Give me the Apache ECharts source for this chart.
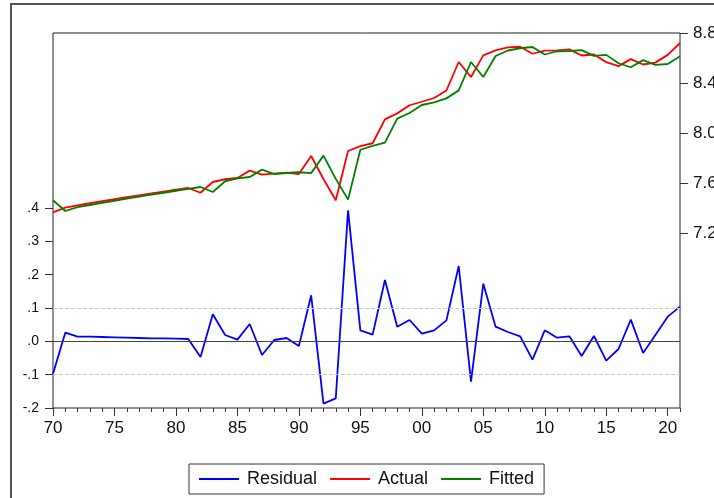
<!DOCTYPE html>
<html>
<head>
<meta charset="utf-8">
<script src="https://cdn.jsdelivr.net/npm/echarts@6/dist/echarts.min.js"></script>
<style>
html,body{margin:0;padding:0;background:#fff;}
#main{width:714px;height:498px;}
</style>
</head>
<body>
<div id="main"></div>
<script>
const years = [];
for (let y = 1970; y <= 2021; y++) years.push(y);

const residual = [-0.097,0.026,0.014,0.014,0.013,0.012,0.011,0.010,0.009,0.009,0.008,0.007,
  -0.047,0.081,0.019,0.005,0.052,-0.041,0.004,0.010,-0.014,0.138,-0.187,-0.171,0.393,
  0.033,0.020,0.184,0.044,0.064,0.023,0.033,0.063,0.226,-0.121,0.173,0.044,0.028,0.015,
  -0.055,0.033,0.011,0.015,-0.044,0.016,-0.058,-0.023,0.065,-0.035,0.019,0.074,0.104];

const actual = [7.365,7.403,7.421,7.438,7.454,7.470,7.486,7.501,7.516,7.531,7.546,7.560,
  7.522,7.608,7.630,7.640,7.699,7.667,7.675,7.683,7.672,7.816,7.632,7.462,7.856,
  7.895,7.918,8.109,8.157,8.222,8.250,8.280,8.340,8.568,8.448,8.621,8.661,8.685,8.690,
  8.634,8.659,8.661,8.669,8.620,8.628,8.567,8.535,8.591,8.548,8.563,8.625,8.720];

const fitted = [7.462,7.376,7.407,7.424,7.441,7.458,7.475,7.491,7.507,7.522,7.538,7.553,
  7.568,7.528,7.614,7.637,7.648,7.707,7.672,7.680,7.686,7.679,7.819,7.633,7.467,
  7.866,7.897,7.923,8.115,8.160,8.224,8.245,8.277,8.341,8.568,8.448,8.616,8.660,8.678,
  8.688,8.628,8.654,8.656,8.663,8.617,8.625,8.558,8.526,8.583,8.545,8.552,8.614];

const leftTicks = [-0.2,-0.1,0,0.1,0.2,0.3,0.4];
const rightTicks = [7.2,7.6,8.0,8.4,8.8];
const majorYears = [1970,1975,1980,1985,1990,1995,2000,2005,2010,2015,2020];
const SE = 0.099;

const pair = arr => arr.map((v, i) => [years[i], v]);
const font = 'Liberation Sans, Arial, sans-serif';

const chart = echarts.init(document.getElementById('main'), null, {renderer: 'canvas'});
chart.setOption({
  animation: false,
  backgroundColor: '#fff',
  graphic: [{
    type: 'rect', shape: {x: 11, y: 4, width: 800, height: 600},
    style: {fill: 'none', stroke: '#555', lineWidth: 2}, silent: true, z: -1
  }],
  grid: {left: 53, right: 34, top: 33, height: 375, show: true, borderColor: '#222', borderWidth: 1,
    backgroundColor: 'transparent', containLabel: false, outerBoundsMode: 'none'},
  xAxis: [{
    type: 'value', min: 1970, max: 2021,
    axisLine: {show: false, onZero: false},
    axisTick: {show: true, length: 8, inside: false, lineStyle: {color: '#333'}, customValues: majorYears},
    axisLabel: {customValues: majorYears, formatter: v => String(v).slice(2), fontSize: 17, color: '#111', fontFamily: font, margin: 12},
    splitLine: {show: false}
  }, {
    type: 'value', min: 1970, max: 2021, position: 'bottom',
    axisLine: {show: false, onZero: false},
    axisTick: {show: true, length: 4, lineStyle: {color: '#333'}, customValues: years},
    axisLabel: {show: false},
    splitLine: {show: false}
  }],
  yAxis: [{
    type: 'value', min: -0.2, max: 0.925, position: 'left',
    axisLine: {show: false, onZero: false},
    axisTick: {show: true, length: 8, lineStyle: {color: '#333'}, customValues: leftTicks},
    axisLabel: {customValues: leftTicks, formatter: v => v.toFixed(1).replace('0.', '.'), fontSize: 14, color: '#111', fontFamily: font, margin: 14},
    splitLine: {show: false}
  }, {
    type: 'value', min: 5.8, max: 8.8, position: 'right',
    axisLine: {show: false, onZero: false},
    axisTick: {show: true, length: 8, lineStyle: {color: '#333'}, customValues: rightTicks},
    axisLabel: {customValues: rightTicks, formatter: v => v.toFixed(1), fontSize: 17, color: '#111', fontFamily: font, margin: 13},
    splitLine: {show: false}
  }],
  legend: {
    data: ['Residual', 'Actual', 'Fitted'],
    left: 189, top: 464, orient: 'horizontal',
    padding: [6, 10], itemGap: 13, itemWidth: 40, itemHeight: 2, icon: 'rect',
    borderColor: '#333', borderWidth: 1,
    textStyle: {fontSize: 18, color: '#111', fontFamily: font, padding: [0, 0, 0, 3]}
  },
  series: [{
    name: 'Residual', type: 'line', xAxisIndex: 0, yAxisIndex: 0,
    data: pair(residual), symbol: 'none', color: '#0000ff',
    lineStyle: {width: 1.8, color: '#0000ff'},
    markLine: {
      silent: true, symbol: 'none', label: {show: false},
      data: [
        {yAxis: 0, lineStyle: {color: '#444', type: 'solid', width: 1}},
        {yAxis: SE, lineStyle: {color: '#c8c8c8', type: 'dashed', width: 1}},
        {yAxis: -SE, lineStyle: {color: '#c8c8c8', type: 'dashed', width: 1}}
      ]
    }
  }, {
    name: 'Actual', type: 'line', xAxisIndex: 0, yAxisIndex: 1,
    data: pair(actual), symbol: 'none', color: '#ff0000',
    lineStyle: {width: 1.8, color: '#ff0000'}
  }, {
    name: 'Fitted', type: 'line', xAxisIndex: 0, yAxisIndex: 1,
    data: pair(fitted), symbol: 'none', color: '#008000',
    lineStyle: {width: 1.8, color: '#008000'}
  }]
});
</script>
</body>
</html>
